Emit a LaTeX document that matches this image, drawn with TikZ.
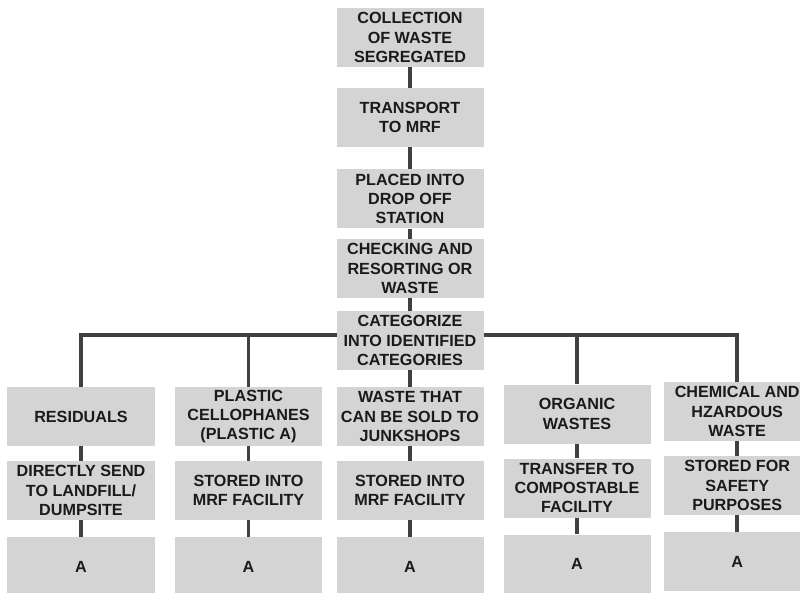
\documentclass[tikz,border=0pt]{standalone}
\usepackage{fontspec}
\setmainfont{Liberation Sans}
\usetikzlibrary{positioning,backgrounds}
\definecolor{boxgray}{HTML}{D4D4D4}
\definecolor{linegray}{HTML}{404040}
\definecolor{txtgray}{HTML}{1A1A1A}

\begin{document}
\begin{tikzpicture}[
    stage/.style={rectangle, fill=boxgray, text=txtgray, minimum width=3.675cm, minimum height=1.475cm, align=center, inner sep=1pt, font=\fontsize{11.5}{13.8}\selectfont\bfseries},
    link/.style={draw=linegray, line width=2.8pt}
]
\useasboundingbox (0,0) rectangle (20,14.8);

% Main sequence
\node (collect) at (10.25,13.8625) [stage] {COLLECTION\\OF WASTE\\SEGREGATED};
\node (transport) at (10.25,11.8625) [stage] {TRANSPORT\\TO MRF};
\node (dropoff) at (10.25,9.825) [stage] {PLACED INTO\\DROP OFF\\STATION};
\node (check) at (10.25,8.0875) [stage] {CHECKING AND\\RESORTING OR\\WASTE};
\node (categorize) at (10.25,6.2875) [stage] {CATEGORIZE\\INTO IDENTIFIED\\CATEGORIES};

\draw[link] (collect) -- (transport);
\draw[link] (transport) -- (dropoff);
\draw[link] (dropoff) -- (check);
\draw[link] (check) -- (categorize);

% Categories with their handling
\foreach \n/\x/\dy/\cat/\act in {
    res/2.025/0/{RESIDUALS}/{DIRECTLY SEND\\TO LANDFILL/\\DUMPSITE},
    plas/6.2125/0/{PLASTIC\\CELLOPHANES\\(PLASTIC A)}/{STORED INTO\\MRF FACILITY},
    junk/10.25/0/{WASTE THAT\\CAN BE SOLD TO\\JUNKSHOPS}/{STORED INTO\\MRF FACILITY},
    org/14.425/0.0625/{ORGANIC\\WASTES}/{TRANSFER TO\\COMPOSTABLE\\FACILITY},
    chem/18.43/0.125/{CHEMICAL AND\\HZARDOUS\\WASTE}/{STORED FOR\\SAFETY\\PURPOSES}} {
  \node (\n-cat) at (\x,{4.3875+\dy}) [stage] {\cat};
  \node (\n-act) at (\x,{2.5375+\dy}) [stage] {\act};
  \node (\n-end) at (\x,{0.6375+\dy}) [stage] {A};
  \draw[link] (\n-cat) -- (\n-act);
  \draw[link] (\n-act) -- (\n-end);
}

% Branching bus behind the categorize box
\coordinate (bus) at ([yshift=0.1375cm]categorize.center);
\begin{scope}[on background layer]
  \draw[link] (res-cat.north) |- (bus) -| (chem-cat.north);
  \draw[link] (bus) -| (plas-cat.north);
  \draw[link] (bus) -| (org-cat.north);
\end{scope}
\draw[link] (categorize) -- (junk-cat);

\end{tikzpicture}
\end{document}
